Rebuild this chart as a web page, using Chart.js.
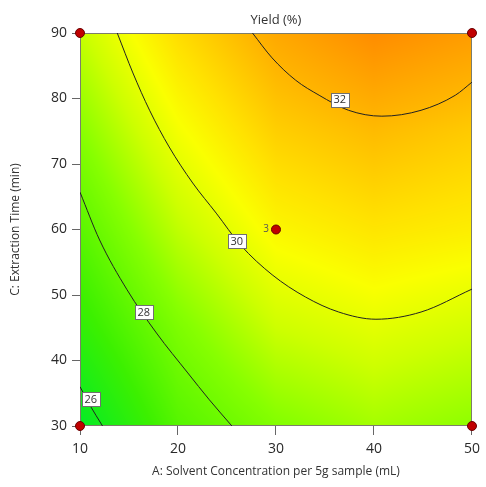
<!DOCTYPE html>
<html>
<head>
<meta charset="utf-8">
<script src="https://cdn.jsdelivr.net/npm/chart.js@4.4.1/dist/chart.umd.min.js"></script>
<style>
  html, body { margin: 0; padding: 0; background: #fff; }
  #wrap { width: 486px; height: 487px; }
</style>
</head>
<body>
<div id="wrap"><canvas id="chart" width="486" height="487"></canvas></div>
<script>
// axis ticks
const xTicks = [10, 20, 30, 40, 50]
const yTicks = [30, 40, 50, 60, 70, 80, 90]

// yield surface (rows: C = 30..90, cols: A = 10..50)
const gridA = [10, 20, 30, 40, 50]
const gridC = [30, 45, 60, 75, 90]
const gridYield = [
  [25.6, 27.5, 28.4, 28.9, 28.6],
  [26.7, 28.3, 29.5, 29.9, 29.6],
  [27.6, 29.3, 30.5, 30.9, 30.7],
  [28.5, 30.2, 31.4, 31.85, 31.5],
  [29.4, 31.1, 32.3, 33.0, 32.6]
]

// contour lines [A, C]
const contour26 = [[10, 36.0], [11.0, 33.2], [12.3, 30]]
const contour28 = [[10, 65.7], [12.0, 58.4], [14.8, 50.8], [17.8, 44.2],
                   [21.0, 38.1], [23.2, 34.0], [25.5, 30]]
const contour30 = [[13.8, 90], [15.4, 83.9], [17.1, 78.2], [19.1, 72.6], [21.5, 67.1], [23.9, 62.5],
                   [26.4, 57.6], [29.6, 53.1], [33.0, 49.7], [36.4, 47.4], [40.2, 46.3],
                   [44.8, 47.4], [50, 50.9]]
const contour32 = [[27.6, 90], [29.6, 86.2], [32.0, 82.8], [34.4, 80.5], [37.4, 78.2], [40.8, 77.3],
                   [44.8, 78.2], [48.3, 80.5], [50, 82.5]]

// contour label boxes
const contourLabels = ['26', '28', '30', '32']
const contourLabelPos = [[11.1, 34.1], [16.5, 47.4], [26.0, 58.2], [36.5, 79.8]]

// design points
const designA = [10, 10, 50, 50, 30]
const designC = [30, 90, 30, 90, 60]
const designRuns = ['', '', '', '', '3']

// colour ramp (value -> rgb)
const RAMP = [
  [25.5, [0, 235, 40]],
  [27.0, [60, 240, 0]],
  [28.5, [135, 255, 0]],
  [29.5, [205, 255, 0]],
  [30.3, [250, 255, 0]],
  [31.0, [255, 225, 0]],
  [32.0, [255, 180, 0]],
  [33.0, [255, 140, 0]]
]

const FONT = '"Open Sans", "Noto Sans", sans-serif'

function gridValue(a, c) {
  let i = 0; while (i < gridA.length - 2 && a > gridA[i + 1]) i++
  let j = 0; while (j < gridC.length - 2 && c > gridC[j + 1]) j++
  const t = Math.min(1, Math.max(0, (a - gridA[i]) / (gridA[i + 1] - gridA[i])))
  const s = Math.min(1, Math.max(0, (c - gridC[j]) / (gridC[j + 1] - gridC[j])))
  const lo = gridYield[j][i] * (1 - t) + gridYield[j][i + 1] * t
  const hi = gridYield[j + 1][i] * (1 - t) + gridYield[j + 1][i + 1] * t
  return lo * (1 - s) + hi * s
}

function rampColor(v) {
  if (v <= RAMP[0][0]) return RAMP[0][1]
  for (let k = 1; k < RAMP.length; k++) {
    if (v <= RAMP[k][0]) {
      const [v0, c0] = RAMP[k - 1], [v1, c1] = RAMP[k]
      const f = (v - v0) / (v1 - v0)
      return c0.map((c, n) => c + (c1[n] - c) * f)
    }
  }
  return RAMP[RAMP.length - 1][1]
}

const surfacePlugin = {
  id: 'surface',
  beforeDatasetsDraw(chart) {
    const { ctx, chartArea: ca, scales: { x, y } } = chart
    const left = Math.round(ca.left), top = Math.round(ca.top)
    const w = Math.round(ca.right) - left, h = Math.round(ca.bottom) - top
    const img = ctx.createImageData(w, h)
    for (let j = 0; j < h; j++) {
      const c = y.getValueForPixel(top + j + 0.5)
      for (let i = 0; i < w; i++) {
        const a = x.getValueForPixel(left + i + 0.5)
        const col = rampColor(gridValue(a, c))
        const p = (j * w + i) * 4
        img.data[p] = col[0]; img.data[p + 1] = col[1]; img.data[p + 2] = col[2]; img.data[p + 3] = 255
      }
    }
    ctx.putImageData(img, left, top)
    ctx.save()
    ctx.strokeStyle = '#7d7d6a'
    ctx.lineWidth = 1
    ctx.strokeRect(left + 0.5, top + 0.5, w - 1, h - 1)
    ctx.restore()
  },
  afterDatasetsDraw(chart) {
    const { ctx, scales: { x, y } } = chart
    ctx.save()
    ctx.font = '11px ' + FONT
    ctx.textAlign = 'center'
    ctx.textBaseline = 'middle'
    contourLabels.forEach((txt, k) => {
      const px = x.getPixelForValue(contourLabelPos[k][0])
      const py = y.getPixelForValue(contourLabelPos[k][1])
      const tw = ctx.measureText(txt).width + 5
      ctx.fillStyle = '#fff'
      ctx.fillRect(Math.round(px - tw / 2) + 0.5, Math.round(py - 7) + 0.5, Math.round(tw), 14)
      ctx.strokeStyle = '#707070'
      ctx.strokeRect(Math.round(px - tw / 2) + 0.5, Math.round(py - 7) + 0.5, Math.round(tw), 14)
      ctx.fillStyle = '#333'
      ctx.fillText(txt, px, py + 0.5)
    })
    ctx.font = '10px ' + FONT
    ctx.textAlign = 'right'
    ctx.fillStyle = '#555'
    designRuns.forEach((txt, k) => {
      if (!txt) return
      ctx.fillText(txt, x.getPixelForValue(designA[k]) - 7, y.getPixelForValue(designC[k]))
    })
    ctx.restore()
  }
}

const toXY = arr => arr.map(p => ({ x: p[0], y: p[1] }))
const contourSet = data => ({
  type: 'line',
  data: toXY(data),
  borderColor: '#222',
  borderWidth: 1,
  pointRadius: 0,
  cubicInterpolationMode: 'monotone',
  fill: false
})

new Chart(document.getElementById('chart'), {
  type: 'scatter',
  data: {
    datasets: [
      contourSet(contour26),
      contourSet(contour28),
      contourSet(contour30),
      contourSet(contour32),
      {
        type: 'scatter',
        data: designA.map((a, k) => ({ x: a, y: designC[k] })),
        backgroundColor: '#c00000',
        borderColor: '#6a0000',
        borderWidth: 1,
        pointRadius: 4.5,
        clip: false
      }
    ]
  },
  options: {
    responsive: false,
    animation: false,
    layout: { padding: { top: 0, right: 12, bottom: 0, left: 0 } },
    plugins: { legend: { display: false }, tooltip: { enabled: false }, title: { display: false } },
    scales: {
      x: {
        type: 'linear', position: 'bottom', min: 10, max: 50,
        afterBuildTicks: s => { s.ticks = xTicks.map(v => ({ value: v })) },
        afterFit: s => { s.height = 61 },
        border: { display: false },
        grid: { drawOnChartArea: false, drawTicks: true, tickLength: 9, color: '#666' },
        ticks: { font: { size: 14, family: FONT }, color: '#2a2a2a', padding: 6, maxRotation: 0 },
        title: { display: true, text: 'A: Solvent Concentration per 5g sample (mL)',
                 font: { size: 12, family: FONT }, color: '#333', padding: { top: 0, bottom: 8 } }
      },
      xTop: {
        type: 'linear', position: 'top', min: 10, max: 50,
        afterFit: s => { s.height = 33 },
        border: { display: false },
        grid: { display: false },
        ticks: { display: false },
        title: { display: true, text: 'Yield (%)', font: { size: 13, family: FONT }, color: '#333',
                 padding: { top: 12, bottom: 0 } }
      },
      y: {
        type: 'linear', position: 'left', min: 30, max: 90,
        afterBuildTicks: s => { s.ticks = yTicks.map(v => ({ value: v })) },
        afterFit: s => { s.width = 80 },
        border: { display: false },
        grid: { drawOnChartArea: false, drawTicks: true, tickLength: 8, color: '#666' },
        ticks: { font: { size: 14, family: FONT }, color: '#2a2a2a', padding: 5 },
        title: { display: true, text: 'C: Extraction Time (min)',
                 font: { size: 12, family: FONT }, color: '#333', padding: { top: 8, bottom: 0 } }
      }
    }
  },
  plugins: [surfacePlugin]
})
</script>
</body>
</html>
